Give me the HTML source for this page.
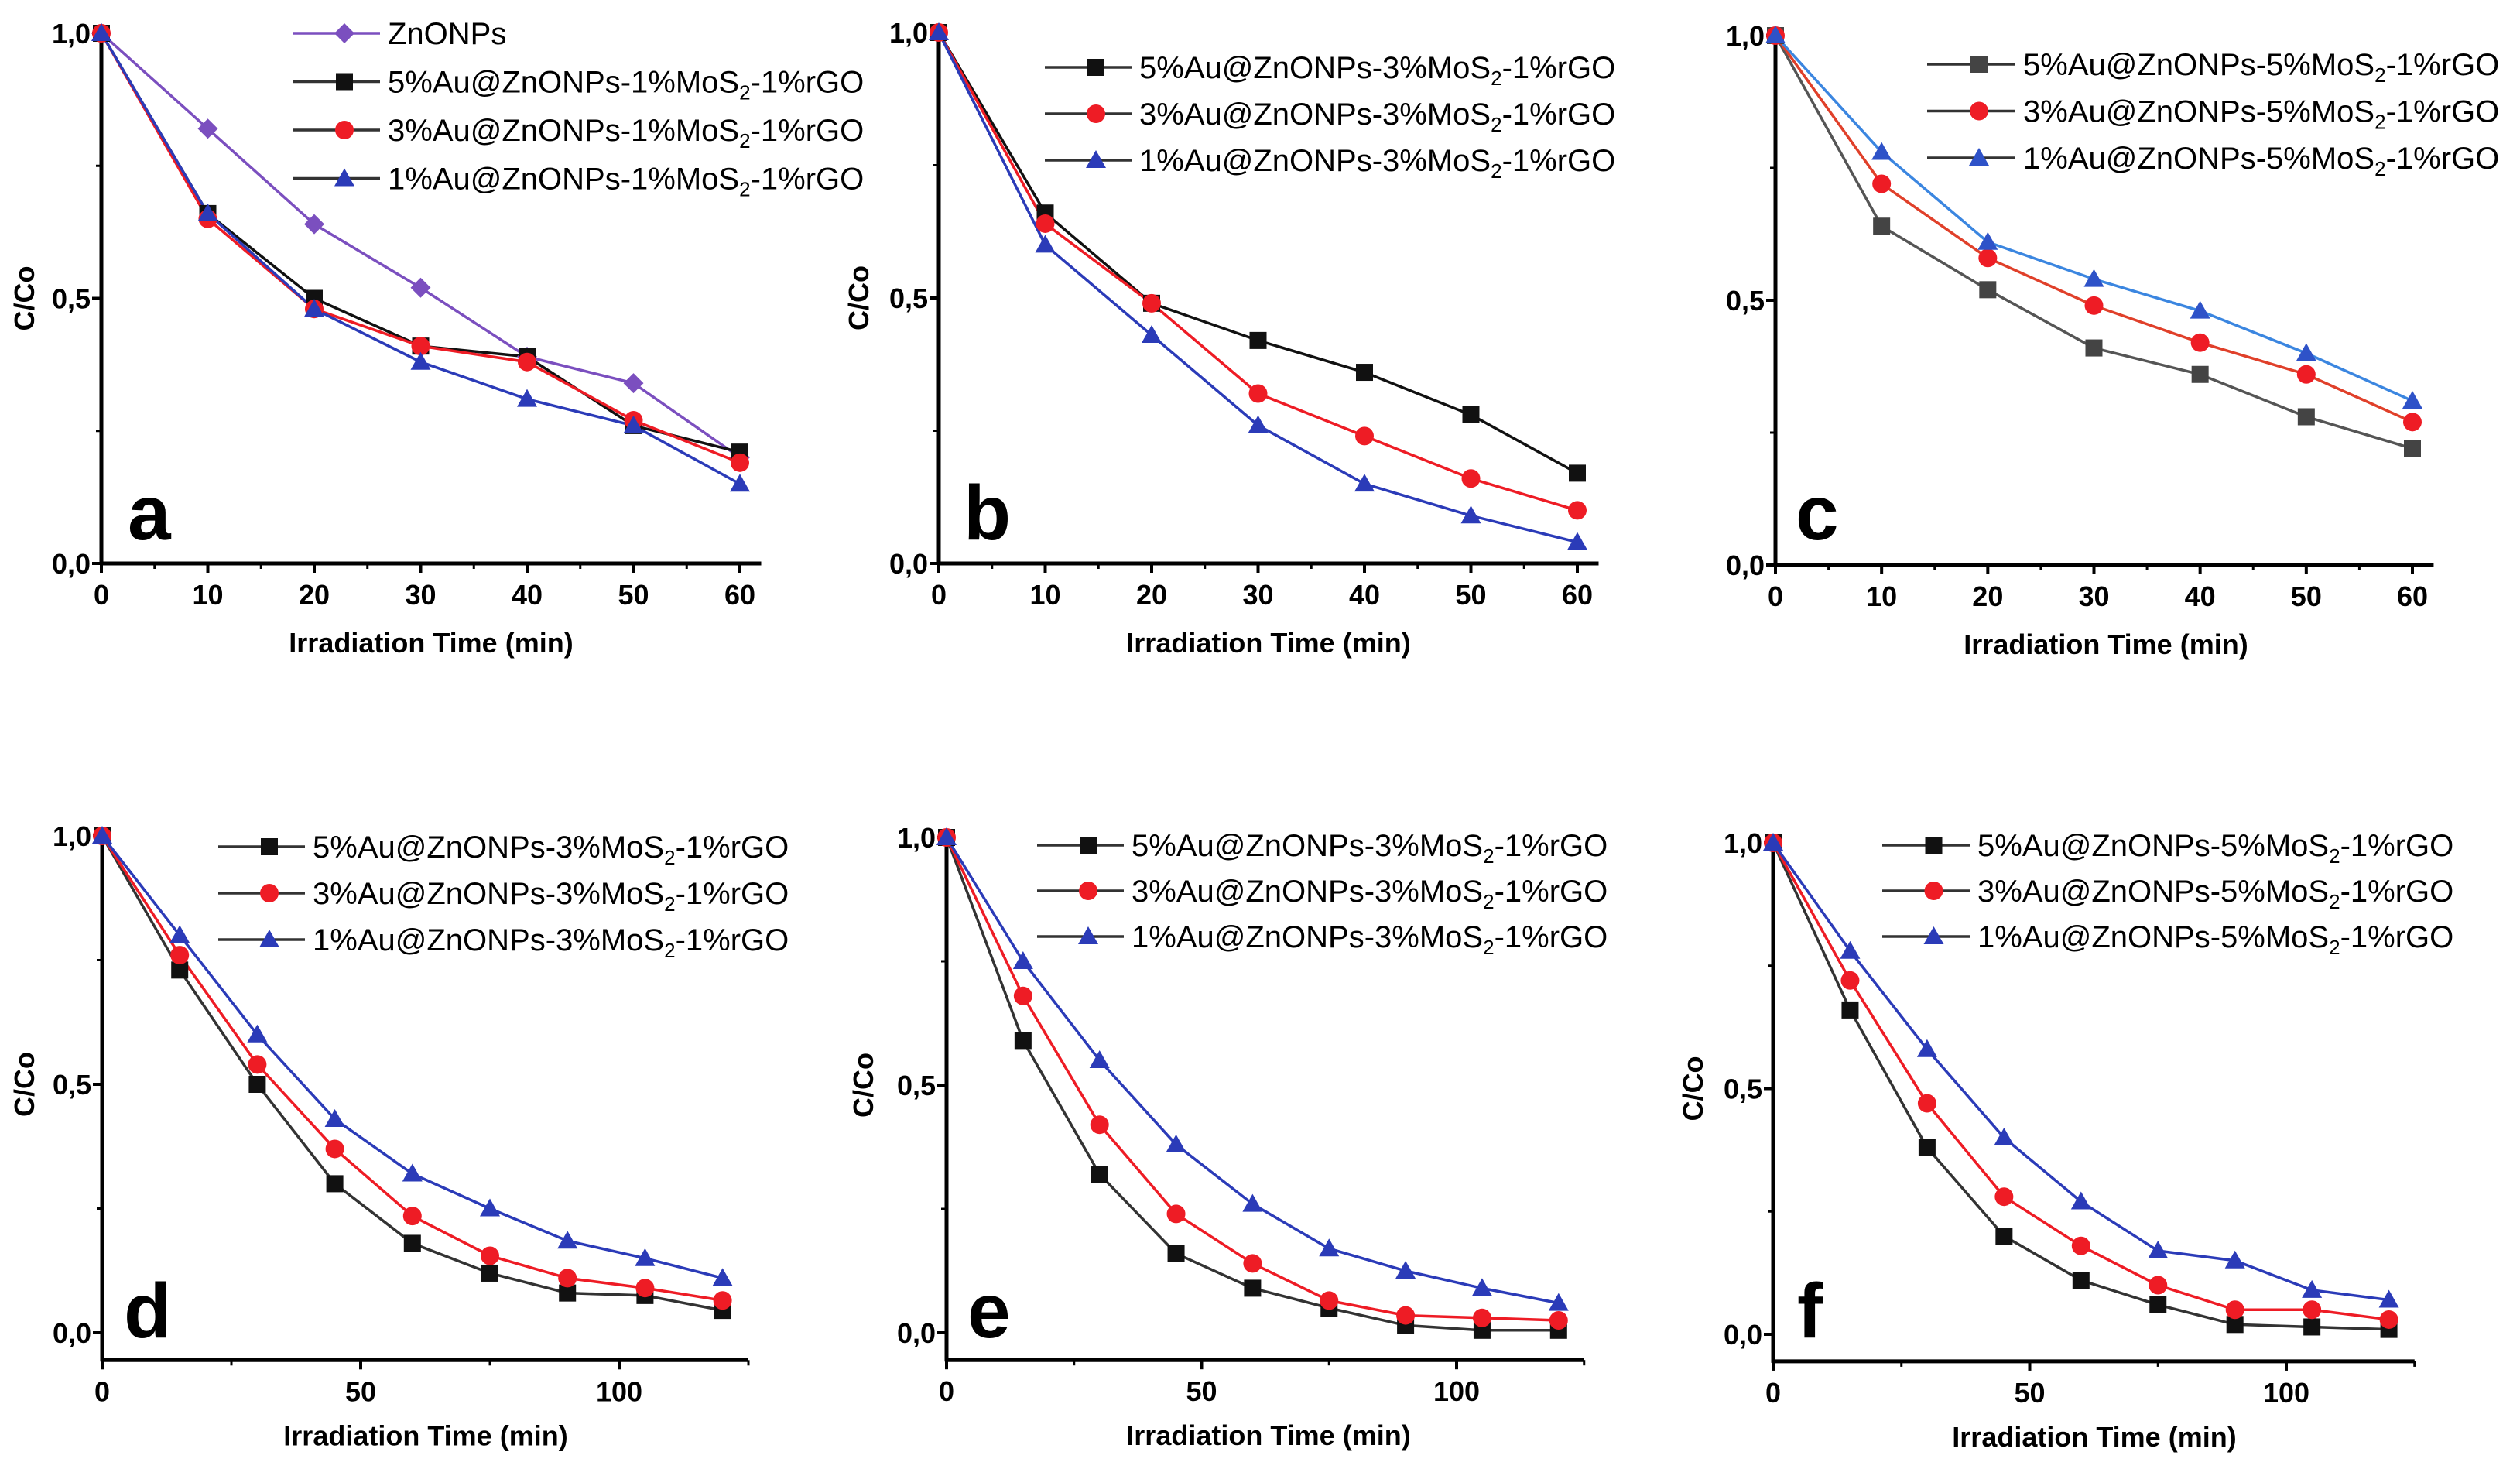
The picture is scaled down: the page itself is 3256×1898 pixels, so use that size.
<!DOCTYPE html>
<html><head><meta charset="utf-8">
<style>
html,body{margin:0;padding:0;background:#fff;}
svg{display:block;}
text{font-family:"Liberation Sans",sans-serif;}
</style></head>
<body>
<svg id="fig" width="3256" height="1898" viewBox="0 0 3256 1898" xmlns="http://www.w3.org/2000/svg"></svg>
<script>
// ---- data ----
const xShort = [0,10,20,30,40,50,60];
const xLong = [0,15,30,45,60,75,90,105,120];
const aZnO = [1,0.82,0.64,0.52,0.39,0.34,0.20];
const a5 = [1,0.66,0.50,0.41,0.39,0.26,0.21];
const a3 = [1,0.65,0.48,0.41,0.38,0.27,0.19];
const a1 = [1,0.66,0.48,0.38,0.31,0.26,0.15];
const b5 = [1,0.66,0.49,0.42,0.36,0.28,0.17];
const b3 = [1,0.64,0.49,0.32,0.24,0.16,0.10];
const b1 = [1,0.60,0.43,0.26,0.15,0.09,0.04];
const c5 = [1,0.64,0.52,0.41,0.36,0.28,0.22];
const c3 = [1,0.72,0.58,0.49,0.42,0.36,0.27];
const c1 = [1,0.78,0.61,0.54,0.48,0.40,0.31];
const d5 = [1,0.73,0.50,0.30,0.18,0.12,0.08,0.075,0.045];
const d3 = [1,0.76,0.54,0.37,0.235,0.155,0.11,0.09,0.065];
const d1 = [1,0.80,0.60,0.43,0.32,0.25,0.185,0.15,0.11];
const e5 = [1,0.59,0.32,0.16,0.09,0.05,0.015,0.005,0.005];
const e3 = [1,0.68,0.42,0.24,0.14,0.065,0.035,0.03,0.025];
const e1 = [1,0.75,0.55,0.38,0.26,0.17,0.125,0.09,0.06];
const f5 = [1,0.66,0.38,0.20,0.11,0.06,0.02,0.015,0.01];
const f3 = [1,0.72,0.47,0.28,0.18,0.10,0.05,0.05,0.03];
const f1 = [1,0.78,0.58,0.40,0.27,0.17,0.15,0.09,0.07];
const yTicks = [0,0.5,1];
const yTickLabels = ["0,0","0,5","1,0"];
const xTicksShort = [0,10,20,30,40,50,60];
const xTicksLong = [0,50,100];

const NS="http://www.w3.org/2000/svg";
const svg=document.getElementById('fig');
function mk(tag,attrs,parent){const e=document.createElementNS(NS,tag);for(const k in attrs)e.setAttribute(k,attrs[k]);(parent||svg).appendChild(e);return e;}

const BLUE="#2b3bb8", RED="#ee1c25", BLK="#111";
function marker(g,type,x,y,color){
  let m;
  if(type==='sq') m=mk('rect',{x:x-11,y:y-11,width:22,height:22,fill:color},g);
  else if(type==='ci') m=mk('circle',{cx:x,cy:y,r:12,fill:color},g);
  else if(type==='tri') m=mk('polygon',{points:`${x},${y-13} ${x-13},${y+10} ${x+13},${y+10}`,fill:color},g);
  else m=mk('polygon',{points:`${x},${y-13} ${x+13},${y} ${x},${y+13} ${x-13},${y}`,fill:color},g);
  
  
}

function panel(p){
  const g=mk('g',{});
  
  
  const sx=v=>p.x0+(v-0)*(p.x1-p.x0)/p.xref;
  const sy=v=>p.y0-(v)*(p.y0-p.y1);
  const axBot=sy(p.ymin), axRight=sx(p.xmax);
  // axes
  const ya=mk('line',{x1:p.x0,y1:sy(1)-2,x2:p.x0,y2:axBot+2,stroke:'#000','stroke-width':5},g);
  
  const xa=mk('line',{x1:p.x0-2,y1:axBot,x2:axRight,y2:axBot,stroke:'#000','stroke-width':5},g);
  
  // y ticks
  yTicks.forEach((t,i)=>{
    mk('line',{x1:p.x0-12,y1:sy(t),x2:p.x0,y2:sy(t),stroke:'#000','stroke-width':4},g);
    const tl=mk('text',{x:p.x0-14,y:sy(t)+13,'text-anchor':'end','font-size':36,'font-weight':'bold'},g);
    tl.textContent=yTickLabels[i];
    
  });
  [0.25,0.75].forEach(t=>mk('line',{x1:p.x0-7,y1:sy(t),x2:p.x0,y2:sy(t),stroke:'#000','stroke-width':3},g));
  // x ticks
  const xt=p.long?xTicksLong:xTicksShort;
  const minor=p.long?25:5;
  for(let v=0;v<=p.xmax;v+=minor){mk('line',{x1:sx(v),y1:axBot,x2:sx(v),y2:axBot+7,stroke:'#000','stroke-width':3},g);}
  xt.forEach(t=>{
    mk('line',{x1:sx(t),y1:axBot,x2:sx(t),y2:axBot+12,stroke:'#000','stroke-width':4},g);
    const tl=mk('text',{x:sx(t),y:axBot+53,'text-anchor':'middle','font-size':36,'font-weight':'bold'},g);
    tl.textContent=t;
    
  });
  // titles
  const xtl=mk('text',{x:p.xtx,y:axBot+(p.long?110:115),'text-anchor':'middle','font-size':36,'font-weight':'bold'},g);
  xtl.textContent='Irradiation Time (min)';
  
  if(p.ytx){
    const yc=(sy(1)+sy(0))/2;
    const ytl=mk('text',{x:0,y:0,transform:`translate(${p.ytx},${yc}) rotate(-90)`,'text-anchor':'middle','font-size':36,'font-weight':'bold'},g);
    ytl.textContent='C/Co';
    
  }
  // panel letter
  const pl=mk('text',{x:p.lx,y:p.ly,'font-size':100,'font-weight':'bold'},g);
  pl.textContent=p.id;
  
  // series
  const xs=p.long?xLong:xShort;
  p.series.forEach(s=>{
    const pts=xs.map((x,i)=>sx(x)+','+sy(s.data[i])).join(' ');
    const ln=mk('polyline',{points:pts,fill:'none',stroke:s.line,'stroke-width':3.5},g);
    
  });
  p.series.forEach(s=>{xs.forEach((x,i)=>marker(g,s.m,sx(x),sy(s.data[i]),s.mc));});
  // legend
  p.series.slice().reverse();
  const order=p.legendOrder||p.series;
  order.forEach((s,i)=>{
    const ly=p.legY+i*p.legDy;
    const lg=mk('g',{},g);
    
    mk('line',{x1:p.legX,y1:ly,x2:p.legX+p.legW,y2:ly,stroke:s.legLine||'#333','stroke-width':3.5},lg);
    marker(lg,s.m,p.legX+p.legW/2+10,ly,s.mc);
    const t=mk('text',{x:p.legX+p.legW+10,y:ly+14,'font-size':40},lg);
    if(s.label==='ZnONPs'){t.textContent='ZnONPs';}
    else{
      const parts=s.label.split('MoS');
      t.appendChild(document.createTextNode(parts[0]+'MoS'));
      const sub=mk('tspan',{'font-size':26,dy:9},t);sub.textContent='2';
      const rest=mk('tspan',{dy:-9},t);rest.textContent=parts[1];
    }
  });
}

function lbl(au,mo){return `${au}%Au@ZnONPs-${mo}%MoS-1%rGO`;}

panel({id:'a',x0:131,x1:956,xref:60,xmax:62,y0:728,y1:43,ymin:0,xtx:557,ytx:44,lx:165,ly:697,
  legX:379,legW:112,legY:43,legDy:62.5,
  series:[
    {data:aZnO,m:'di',mc:'#7b4fbf',line:'#7b4fbf',legLine:'#7b4fbf',label:'ZnONPs'},
    {data:a5,m:'sq',mc:BLK,line:BLK,label:lbl(5,1)},
    {data:a3,m:'ci',mc:RED,line:RED,label:lbl(3,1)},
    {data:a1,m:'tri',mc:BLUE,line:BLUE,label:lbl(1,1)}]});
panel({id:'b',x0:1213,x1:2038,xref:60,xmax:62,y0:728,y1:42,ymin:0,xtx:1639,ytx:1122,lx:1245,ly:697,
  legX:1350,legW:112,legY:87,legDy:60,
  series:[
    {data:b5,m:'sq',mc:BLK,line:BLK,label:lbl(5,3)},
    {data:b3,m:'ci',mc:RED,line:RED,label:lbl(3,3)},
    {data:b1,m:'tri',mc:BLUE,line:BLUE,label:lbl(1,3)}]});
panel({id:'c',x0:2294,x1:3117,xref:60,xmax:62,y0:730,y1:46,ymin:0,xtx:2721,ytx:null,lx:2320,ly:697,
  legX:2490,legW:114,legY:83,legDy:60.5,
  series:[
    {data:c5,m:'sq',mc:'#444',line:'#555',label:lbl(5,5)},
    {data:c3,m:'ci',mc:RED,line:'#e0402a',label:lbl(3,5)},
    {data:c1,m:'tri',mc:'#2e52c8',line:'#3b86e0',label:lbl(1,5)}]});
panel({id:'d',x0:132,x1:800,xref:100,xmax:125,y0:1722,y1:1080,ymin:-0.055,long:true,xtx:550,ytx:44,lx:160,ly:1728,
  legX:282,legW:112,legY:1094,legDy:60,
  series:[
    {data:d5,m:'sq',mc:BLK,line:'#333',label:lbl(5,3)},
    {data:d3,m:'ci',mc:RED,line:RED,label:lbl(3,3)},
    {data:d1,m:'tri',mc:BLUE,line:BLUE,label:lbl(1,3)}]});
panel({id:'e',x0:1223,x1:1882,xref:100,xmax:125,y0:1722,y1:1082,ymin:-0.055,long:true,xtx:1639,ytx:1128,lx:1250,ly:1728,
  legX:1340,legW:112,legY:1092,legDy:59,
  series:[
    {data:e5,m:'sq',mc:BLK,line:'#333',label:lbl(5,3)},
    {data:e3,m:'ci',mc:RED,line:RED,label:lbl(3,3)},
    {data:e1,m:'tri',mc:BLUE,line:BLUE,label:lbl(1,3)}]});
panel({id:'f',x0:2291,x1:2954,xref:100,xmax:125,y0:1724,y1:1089,ymin:-0.055,long:true,xtx:2706,ytx:2200,lx:2322,ly:1728,
  legX:2432,legW:113,legY:1092,legDy:59,
  series:[
    {data:f5,m:'sq',mc:BLK,line:'#333',label:lbl(5,5)},
    {data:f3,m:'ci',mc:RED,line:RED,label:lbl(3,5)},
    {data:f1,m:'tri',mc:BLUE,line:BLUE,label:lbl(1,5)}]});
</script>
</body></html>
